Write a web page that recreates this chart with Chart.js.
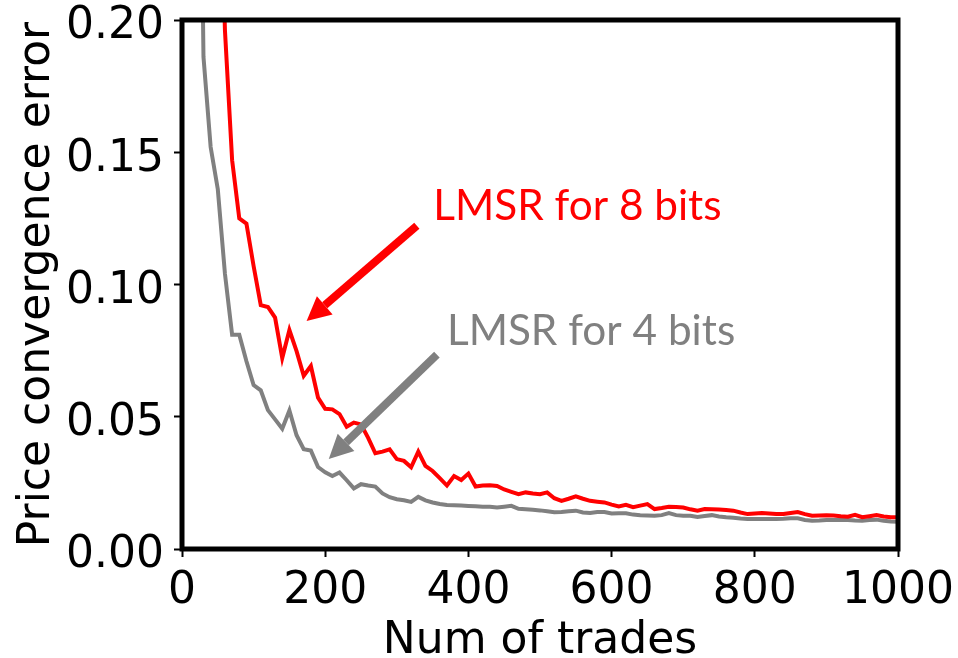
<!DOCTYPE html>
<html>
<head>
<meta charset="utf-8">
<script src="https://cdn.jsdelivr.net/npm/chart.js@4.4.1/dist/chart.umd.min.js"></script>
<style>
  html, body { margin: 0; padding: 0; background: #fff; }
  #wrap { width: 958px; height: 658px; }
</style>
</head>
<body>
<div id="wrap"><canvas id="grafico" width="958" height="658"></canvas></div>
<script>
// number of trades (x)
const trades = [
  10, 20, 30, 40, 50, 60, 70, 80, 90, 100,
  110, 120, 130, 140, 150, 160, 170, 180, 190, 200,
  210, 220, 230, 240, 250, 260, 270, 280, 290, 300,
  310, 320, 330, 340, 350, 360, 370, 380, 390, 400,
  410, 420, 430, 440, 450, 460, 470, 480, 490, 500,
  510, 520, 530, 540, 550, 560, 570, 580, 590, 600,
  610, 620, 630, 640, 650, 660, 670, 680, 690, 700,
  710, 720, 730, 740, 750, 760, 770, 780, 790, 800,
  810, 820, 830, 840, 850, 860, 870, 880, 890, 900,
  910, 920, 930, 940, 950, 960, 970, 980, 990, 1000
];

// LMSR for 8 bits (red)
const err8bits = [
  1.00, 0.62, 0.45, 0.36, 0.29, 0.196, 0.147, 0.125, 0.123, 0.107,
  0.0922, 0.0915, 0.0875, 0.0722, 0.0828, 0.0748, 0.0655, 0.0692, 0.0572, 0.0530,
  0.0528, 0.0510, 0.0462, 0.0478, 0.0471, 0.0420, 0.0362, 0.0368, 0.0377, 0.0340,
  0.0333, 0.0309, 0.0368, 0.0314, 0.0295, 0.0268, 0.0240, 0.0276, 0.0261, 0.0285,
  0.0236, 0.0240, 0.0241, 0.0238, 0.0225, 0.0216, 0.0207, 0.0214, 0.0210, 0.0207,
  0.0214, 0.0192, 0.0182, 0.0190, 0.0199, 0.0190, 0.0182, 0.0179, 0.0176, 0.0168,
  0.0161, 0.0167, 0.0158, 0.0164, 0.0170, 0.0151, 0.0155, 0.0160, 0.0159, 0.0157,
  0.0150, 0.0145, 0.0151, 0.0150, 0.0149, 0.0147, 0.0145, 0.0138, 0.0132, 0.0134,
  0.0136, 0.0134, 0.0132, 0.0132, 0.0136, 0.0140, 0.0132, 0.0126, 0.0127, 0.0128,
  0.0127, 0.0124, 0.0122, 0.0129, 0.0120, 0.0124, 0.0128, 0.0123, 0.0120, 0.0120
];

// LMSR for 4 bits (grey)
const err4bits = [
  0.80, 0.40, 0.186, 0.152, 0.136, 0.104, 0.081, 0.081, 0.071, 0.062,
  0.060, 0.0525, 0.049, 0.0455, 0.0524, 0.0430, 0.0377, 0.0372, 0.0310, 0.0290,
  0.0276, 0.0289, 0.0260, 0.0229, 0.0245, 0.0240, 0.0236, 0.0210, 0.0196, 0.0188,
  0.0184, 0.0178, 0.0197, 0.0184, 0.0176, 0.0170, 0.0166, 0.0165, 0.0164, 0.0163,
  0.0162, 0.0160, 0.0160, 0.0157, 0.0160, 0.0163, 0.0152, 0.0150, 0.0148, 0.0146,
  0.0143, 0.0139, 0.0140, 0.0143, 0.0145, 0.0138, 0.0136, 0.0140, 0.0140, 0.0134,
  0.0135, 0.0135, 0.0130, 0.0128, 0.0127, 0.0126, 0.0128, 0.0136, 0.0128, 0.0126,
  0.0126, 0.0121, 0.0125, 0.0128, 0.0123, 0.0120, 0.0118, 0.0115, 0.0113, 0.0113,
  0.0113, 0.0113, 0.0113, 0.0114, 0.0116, 0.0116, 0.0110, 0.0107, 0.0108, 0.0110,
  0.0110, 0.0110, 0.0110, 0.0108, 0.0107, 0.0110, 0.0111, 0.0107, 0.0104, 0.0103
];

const xTicks = [0, 200, 400, 600, 800, 1000];
const yTicks = [0.00, 0.05, 0.10, 0.15, 0.20];

// annotations (data coordinates, like matplotlib annotate)
const notas = [
  { text: "LMSR for 8 bits", color: "#ff0000", textAt: [351, 0.1242], tail: [328, 0.1222], tip: [174, 0.0862] },
  { text: "LMSR for 4 bits", color: "#808080", textAt: [370, 0.0773], tail: [356, 0.0735], tip: [205, 0.0340] }
];

Chart.defaults.font.family = "'DejaVu Sans', sans-serif";
Chart.defaults.font.size = 44;
Chart.defaults.color = "#000";

// spines + arrows drawn after the lines
const moldura = {
  id: "moldura",
  afterDatasetsDraw(chart) {
    const { ctx, chartArea: a, scales } = chart;
    ctx.save();
    ctx.strokeStyle = "#000";
    ctx.lineWidth = 5;
    ctx.strokeRect(a.left, a.top, a.right - a.left, a.bottom - a.top);

    notas.forEach((n) => {
      const tx = scales.x.getPixelForValue(n.tail[0]);
      const ty = scales.y.getPixelForValue(n.tail[1]);
      const px = scales.x.getPixelForValue(n.tip[0]);
      const py = scales.y.getPixelForValue(n.tip[1]);
      const ang = Math.atan2(py - ty, px - tx);
      const headLen = 24, headHalf = 12;
      const bx = px - headLen * Math.cos(ang);
      const by = py - headLen * Math.sin(ang);

      ctx.strokeStyle = n.color;
      ctx.fillStyle = n.color;
      ctx.lineWidth = 8;
      ctx.lineCap = "butt";
      ctx.beginPath();
      ctx.moveTo(tx, ty);
      ctx.lineTo(bx, by);
      ctx.stroke();

      ctx.beginPath();
      ctx.moveTo(px, py);
      ctx.lineTo(bx + headHalf * Math.sin(ang), by - headHalf * Math.cos(ang));
      ctx.lineTo(bx - headHalf * Math.sin(ang), by + headHalf * Math.cos(ang));
      ctx.closePath();
      ctx.fill();

      // text, sized to the width seen in the picture
      ctx.font = "100px Lato";
      const w = ctx.measureText(n.text).width;
      const size = 100 * 288 / w;
      ctx.font = size.toFixed(1) + "px Lato";
      ctx.textAlign = "left";
      ctx.textBaseline = "alphabetic";
      ctx.fillText(n.text, scales.x.getPixelForValue(n.textAt[0]), scales.y.getPixelForValue(n.textAt[1]));
    });
    ctx.restore();
  }
};

const ctx = document.getElementById("grafico").getContext("2d");

new Chart(ctx, {
  type: "line",
  data: {
    datasets: [
      {
        label: "LMSR for 8 bits",
        data: trades.map((t, i) => ({ x: t, y: err8bits[i] })),
        borderColor: "#ff0000",
        borderWidth: 4,
        pointRadius: 0,
        tension: 0,
      },
      {
        label: "LMSR for 4 bits",
        data: trades.map((t, i) => ({ x: t, y: err4bits[i] })),
        borderColor: "#808080",
        borderWidth: 4,
        pointRadius: 0,
        tension: 0,
      },
    ],
  },
  options: {
    responsive: false,
    animation: false,
    layout: { padding: { left: 0, top: 20, right: 60, bottom: 0 } },
    plugins: {
      legend: { display: false },
      tooltip: { enabled: false },
    },
    scales: {
      x: {
        type: "linear",
        min: 0,
        max: 1000,
        afterBuildTicks: (s) => { s.ticks = xTicks.map((v) => ({ value: v })); },
        afterFit: (s) => { s.height = 109; s.paddingLeft = 0; s.paddingRight = 0; },
        ticks: { padding: 8, maxRotation: 0, callback: (v) => String(v) },
        grid: { drawOnChartArea: false, tickLength: 8, tickWidth: 2, tickColor: "#000" },
        border: { display: false },
        title: {
          display: true,
          text: "Num of trades",
          font: { size: 44, lineHeight: 0.7 },
          padding: { top: 0, bottom: 1 },
        },
      },
      y: {
        min: 0,
        max: 0.2,
        afterBuildTicks: (s) => { s.ticks = yTicks.map((v) => ({ value: v })); },
        afterFit: (s) => { s.width = 182; s.paddingTop = 0; s.paddingBottom = 0; },
        ticks: { padding: 10, labelOffset: 7, callback: (v) => v.toFixed(2) },
        grid: { drawOnChartArea: false, tickLength: 8, tickWidth: 2, tickColor: "#000" },
        border: { display: false },
        title: {
          display: true,
          text: "Price convergence error",
          font: { size: 44, lineHeight: 0.7 },
          padding: { top: 22, bottom: 0 },
        },
      },
    },
  },
  plugins: [moldura],
});
</script>
</body>
</html>
